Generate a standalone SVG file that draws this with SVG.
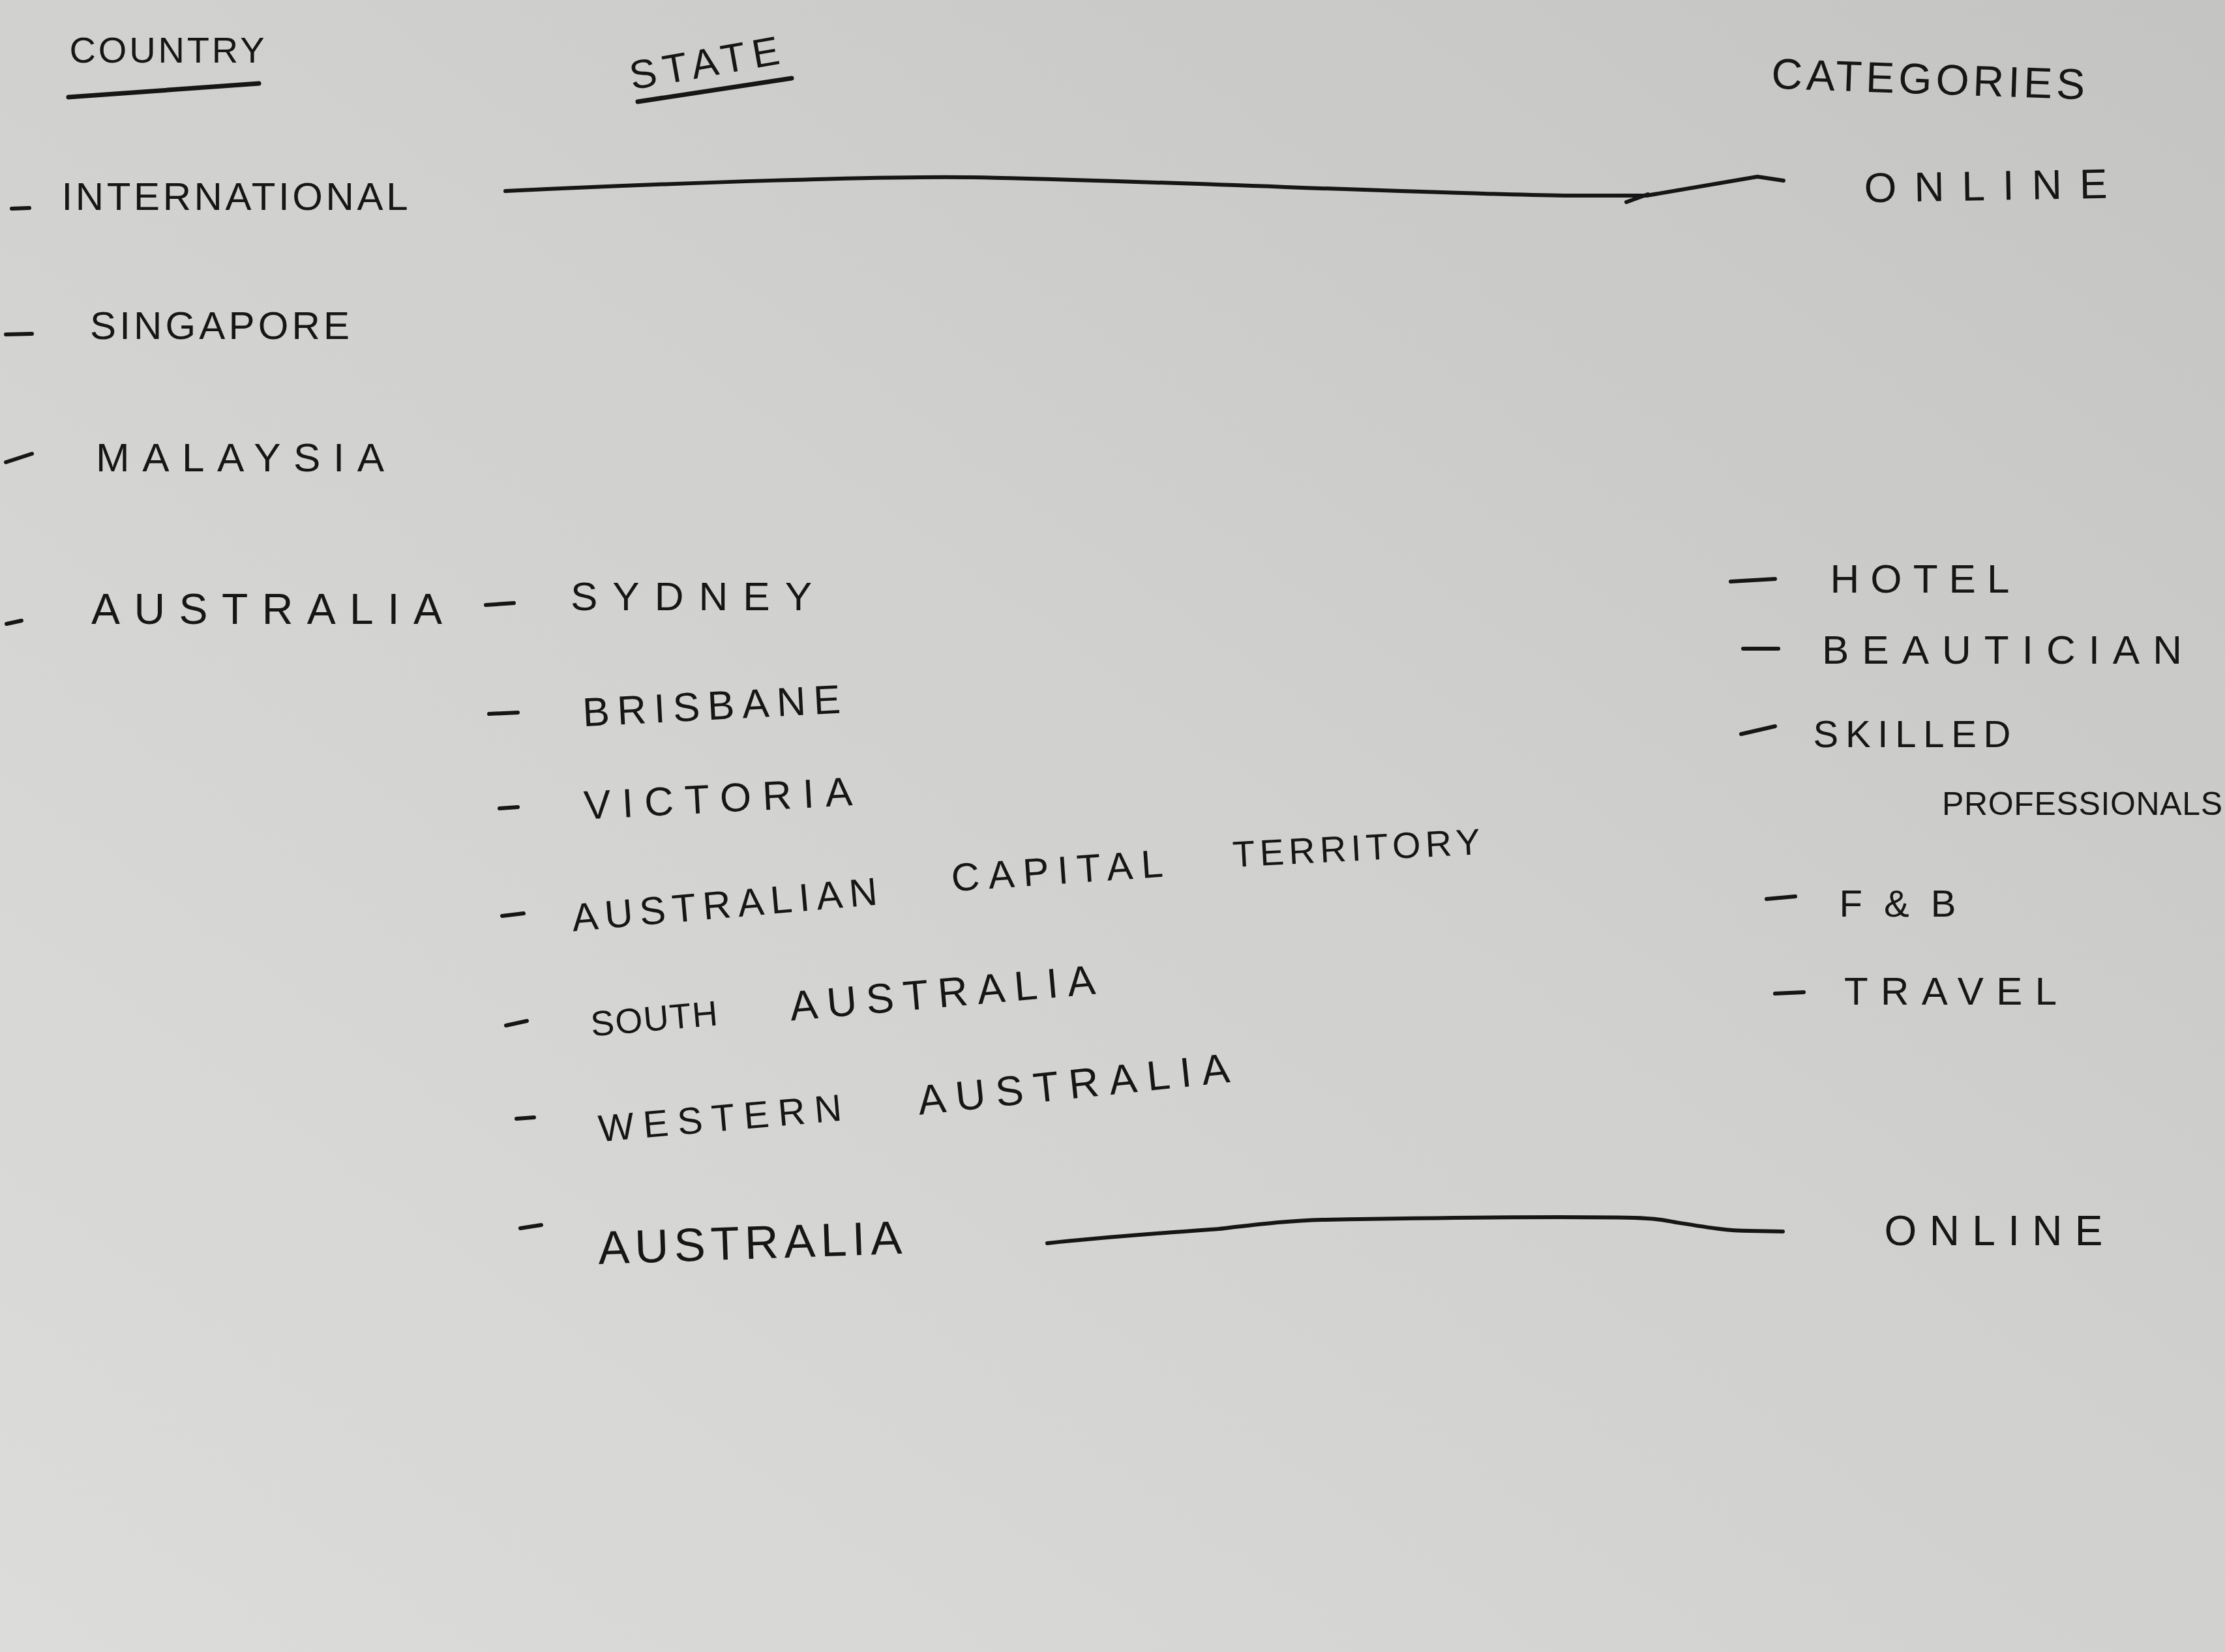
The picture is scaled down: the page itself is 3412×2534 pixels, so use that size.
<svg xmlns="http://www.w3.org/2000/svg" width="3412" height="2534" viewBox="0 0 3412 2534">
<defs>
<linearGradient id="paper" x1="1" y1="0" x2="0" y2="1">
<stop offset="0" stop-color="#c4c4c2"/>
<stop offset="0.45" stop-color="#d0d0ce"/>
<stop offset="1" stop-color="#dcdcda"/>
</linearGradient>
<style>
.t{font-family:"Liberation Sans",Arial,sans-serif;fill:#161616;text-anchor:middle;}
.dash{stroke:#161616;stroke-width:6;stroke-linecap:round;fill:none;}
.ul{stroke:#161616;stroke-width:7;stroke-linecap:round;fill:none;}
.conn{stroke:#161616;stroke-width:6;fill:none;stroke-linecap:round;stroke-linejoin:round;}
</style>
</defs>
<rect x="0" y="0" width="3412" height="2534" fill="url(#paper)"/>

<g id="header-country">
<text class="t" x="256" y="96" font-size="56" textLength="299" lengthAdjust="spacing">COUNTRY</text>
<path class="ul" d="M105,149 L397,128"/>
</g>
<g id="header-state">
<text class="t" x="1080" y="118" font-size="62" textLength="232" lengthAdjust="spacing" transform="rotate(-10 1080 96)">STATE</text>
<path class="ul" d="M978,156 L1214,120"/>
</g>
<g id="header-categories">
<text class="t" x="2957" y="144" font-size="66" textLength="481" lengthAdjust="spacing" transform="rotate(2 2957 120)">CATEGORIES</text>
</g>

<g id="country-international">
<path class="dash" d="M18,320 L45,319"/>
<text class="t" x="360" y="322" font-size="60" textLength="531" lengthAdjust="spacing">INTERNATIONAL</text>
</g>
<g id="country-singapore">
<path class="dash" d="M9,513 L49,512"/>
<text class="t" x="337" y="520" font-size="60" textLength="398" lengthAdjust="spacing">SINGAPORE</text>
</g>
<g id="country-malaysia">
<path class="dash" d="M9,709 L49,696"/>
<text class="t" x="368" y="723" font-size="62" textLength="442" lengthAdjust="spacing">MALAYSIA</text>
</g>
<g id="country-australia">
<path class="dash" d="M10,957 L33,952"/>
<text class="t" x="409" y="957" font-size="66" textLength="538" lengthAdjust="spacing">AUSTRALIA</text>
</g>

<g id="state-sydney">
<path class="dash" d="M745,928 L788,925"/>
<text class="t" x="1060" y="936" font-size="62" textLength="370" lengthAdjust="spacing">SYDNEY</text>
</g>
<g id="state-brisbane">
<path class="dash" d="M750,1095 L794,1093"/>
<text class="t" x="1091" y="1104" font-size="62" textLength="396" lengthAdjust="spacing" transform="rotate(-3 1091 1082)">BRISBANE</text>
</g>
<g id="state-victoria">
<path class="dash" d="M766,1240 L794,1238"/>
<text class="t" x="1101" y="1246" font-size="62" textLength="412" lengthAdjust="spacing" transform="rotate(-3 1101 1224)">VICTORIA</text>
</g>
<g id="state-act">
<path class="dash" d="M770,1405 L803,1401"/>
<text class="t" x="1111" y="1408" font-size="60" textLength="470" lengthAdjust="spacing" transform="rotate(-5 1111 1387)">AUSTRALIAN</text>
<text class="t" x="1621" y="1356" font-size="60" textLength="325" lengthAdjust="spacing" transform="rotate(-4 1621 1335)">CAPITAL</text>
<text class="t" x="2080" y="1320" font-size="56" textLength="380" lengthAdjust="spacing" transform="rotate(-3 2080 1300)">TERRITORY</text>
</g>
<g id="state-south-australia">
<path class="dash" d="M776,1573 L808,1566"/>
<text class="t" x="1003" y="1581" font-size="54" textLength="195" lengthAdjust="spacing" transform="rotate(-5 1003 1562)">SOUTH</text>
<text class="t" x="1445" y="1545" font-size="64" textLength="470" lengthAdjust="spacing" transform="rotate(-5 1445 1522)">AUSTRALIA</text>
</g>
<g id="state-western-australia">
<path class="dash" d="M792,1716 L819,1714"/>
<text class="t" x="1104" y="1735" font-size="58" textLength="374" lengthAdjust="spacing" transform="rotate(-5 1104 1714)">WESTERN</text>
<text class="t" x="1646" y="1685" font-size="64" textLength="480" lengthAdjust="spacing" transform="rotate(-6 1646 1662)">AUSTRALIA</text>
</g>
<g id="state-australia">
<path class="dash" d="M798,1884 L830,1879"/>
<text class="t" x="1150" y="1931" font-size="72" textLength="466" lengthAdjust="spacing" transform="rotate(-2 1150 1905)">AUSTRALIA</text>
</g>

<g id="category-online-top">
<text class="t" x="3045" y="307" font-size="64" textLength="373" lengthAdjust="spacing" transform="rotate(-1 3045 284)">ONLINE</text>
</g>
<g id="category-hotel">
<path class="dash" d="M2654,892 L2722,888"/>
<text class="t" x="2944" y="909" font-size="62" textLength="275" lengthAdjust="spacing">HOTEL</text>
</g>
<g id="category-beautician">
<path class="dash" d="M2673,995 L2727,995"/>
<text class="t" x="3070" y="1018" font-size="62" textLength="552" lengthAdjust="spacing">BEAUTICIAN</text>
</g>
<g id="category-skilled-professionals">
<path class="dash" d="M2670,1126 L2722,1114"/>
<text class="t" x="2932" y="1146" font-size="58" textLength="303" lengthAdjust="spacing">SKILLED</text>
<text class="t" x="3193" y="1250" font-size="50" textLength="430" lengthAdjust="spacing">PROFESSIONALS</text>
</g>
<g id="category-fb">
<path class="dash" d="M2709,1379 L2753,1375"/>
<text class="t" x="2910" y="1406" font-size="58" textLength="179" lengthAdjust="spacing">F&amp;B</text>
</g>
<g id="category-travel">
<path class="dash" d="M2722,1524 L2766,1522"/>
<text class="t" x="2991" y="1541" font-size="60" textLength="326" lengthAdjust="spacing">TRAVEL</text>
</g>
<g id="category-online-bottom">
<text class="t" x="3057" y="1910" font-size="64" textLength="335" lengthAdjust="spacing">ONLINE</text>
</g>

<g id="connectors">
<path class="conn" d="M775,293 C1050,280 1350,270 1490,272 C1800,278 2150,296 2400,300 L2525,300 L2695,271 L2735,277"/>
<path class="conn" d="M2494,310 L2527,298"/>
<path class="conn" d="M1606,1907 C1700,1897 1800,1890 1869,1885 C1930,1878 1980,1872 2028,1871 C2200,1868 2400,1866 2506,1868 C2540,1869 2555,1872 2570,1875 C2620,1883 2650,1888 2682,1888 L2734,1889"/>
</g>
</svg>
